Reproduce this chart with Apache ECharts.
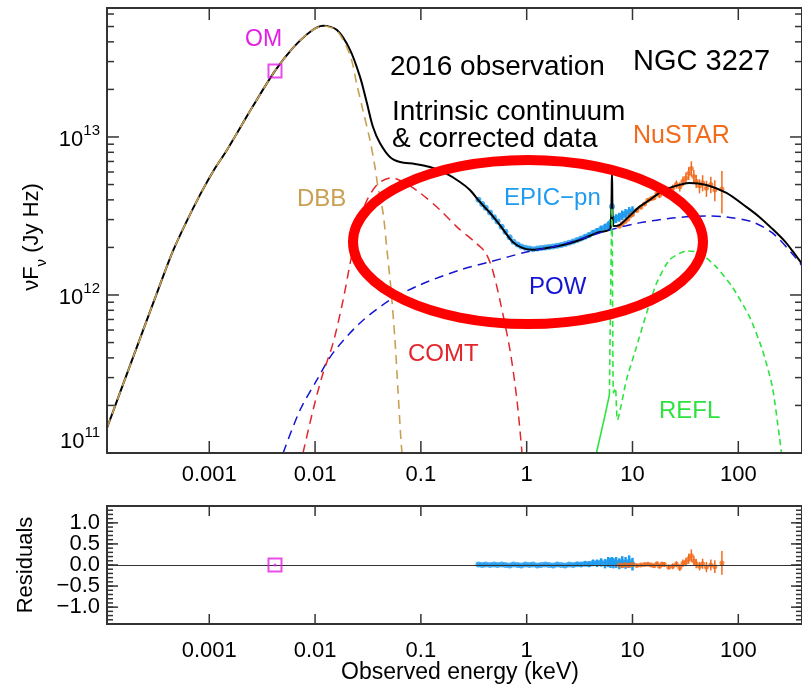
<!DOCTYPE html>
<html>
<head>
<meta charset="utf-8">
<script src="https://cdn.jsdelivr.net/npm/echarts@6/dist/echarts.min.js"></script>
<style>html,body{margin:0;padding:0;background:#fff}#c{width:802px;height:684px}</style>
</head>
<body>
<div id="c"></div>
<script>
// ---------------- axis ranges & tick values ----------------
const XMIN = 1.08e-4, XMAX = 400;
const YMIN = 1e11, YMAX = 6.55e13;
const RMIN = -1.4, RMAX = 1.4;
const xTickVals = [0.001, 0.01, 0.1, 1, 10, 100];
const yMajorVals = [1e11, 1e12, 1e13];
const resMajorVals = [-1, -0.5, 0, 0.5, 1];

// ---------------- model curves (keV, Jy Hz) ----------------
const modelE = [1.08e-4,1.43e-4,2.21e-4,3.42e-4,4.54e-4,6.00e-4,8.17e-4,1.10e-3,1.47e-3,2.59e-3,4.18e-3,6.18e-3,8.95e-3,1.19e-2,1.61e-2,2.14e-2,2.66e-2,3.09e-2,3.52e-2,4.10e-2,5.10e-2,6.34e-2,8.79e-2,0.122,0.169,0.234,0.291,0.361,0.450,0.558,0.741,0.921,1.14,1.55,2.20,3.18,4.60,6.20,6.40,6.60,7.53,9.36,11.6,14.5,18.0,23.9,34.5,50.0,77.3,119,158,210,273,325,400];
const modelF = [1.44e11,2.40e11,5.27e11,1.16e12,1.90e12,2.85e12,4.30e12,6.14e12,8.28e12,1.57e13,2.62e13,3.66e13,4.62e13,5.05e13,4.75e13,3.56e13,2.40e13,1.64e13,1.16e13,9.16e12,7.47e12,6.95e12,6.75e12,6.46e12,5.92e12,5.19e12,4.62e12,3.88e12,3.31e12,2.77e12,2.16e12,1.98e12,1.93e12,1.98e12,2.07e12,2.23e12,2.47e12,2.65e12,5.92e12,2.73e12,2.77e12,3.16e12,3.61e12,3.99e12,4.43e12,4.83e12,5.12e12,4.97e12,4.43e12,3.61e12,3.12e12,2.62e12,2.20e12,1.90e12,1.57e12];

const dbbE = [1.08e-4,1.43e-4,2.21e-4,3.42e-4,4.54e-4,6.00e-4,8.17e-4,1.10e-3,1.47e-3,2.59e-3,4.18e-3,6.18e-3,8.95e-3,1.19e-2,1.61e-2,2.14e-2,2.49e-2,2.83e-2,3.30e-2,3.68e-2,3.93e-2,4.39e-2,4.78e-2,5.22e-2,5.69e-2,6.07e-2,6.48e-2,6.63e-2];
const dbbF = [1.44e11,2.40e11,5.27e11,1.16e12,1.90e12,2.85e12,4.30e12,6.14e12,8.28e12,1.57e13,2.62e13,3.66e13,4.62e13,5.05e13,4.69e13,3.30e13,2.13e13,1.48e13,9.57e12,6.46e12,4.83e12,3.31e12,1.93e12,1.08e12,5.20e11,2.51e11,1.21e11,1.0e11];

const comtE = [7.69e-3,9.57e-3,1.16e-2,1.48e-2,1.84e-2,2.28e-2,2.96e-2,3.93e-2,5.33e-2,7.08e-2,9.82e-2,0.152,0.220,0.325,0.404,0.470,0.558,0.695,0.809,0.903];
const comtF = [1.0e11,1.87e11,3.03e11,4.97e11,9.29e11,1.93e12,3.72e12,5.05e12,5.51e12,5.12e12,4.43e12,3.45e12,2.69e12,2.16e12,1.87e12,1.48e12,9.29e11,4.49e11,2.16e11,1.0e11];

const powE = [4.99e-3,7.21e-3,1.04e-2,1.48e-2,2.66e-2,5.10e-2,9.82e-2,0.234,0.450,0.993,2.07,6.12,11.6,23.9,50.0,77.3,136,210,325,400];
const powF = [1.0e11,1.87e11,2.90e11,4.30e11,6.65e11,9.29e11,1.16e12,1.44e12,1.62e12,1.87e12,2.07e12,2.58e12,2.86e12,3.07e12,3.16e12,3.12e12,2.90e12,2.47e12,1.82e12,1.53e12];

const reflE = [4.56,5.43,6.05,6.40,6.60,6.90,7.21,8.77,10.9,13.6,16.9,22.4,32.4,43.0,62.2,88.1,128,169,210,245,256];
const reflF = [1.0e11,1.67e11,2.33e11,3.56e12,2.40e11,2.58e11,1.62e11,2.90e11,4.69e11,7.69e11,1.19e12,1.67e12,1.90e12,1.85e12,1.50e12,1.12e12,7.26e11,4.49e11,2.62e11,1.26e11,1.0e11];

// ---------------- data ----------------
const omE = [4.18e-3];
const omF = [2.62e13];
const omRes = [0];

const epicE = [0.35,0.38,0.41,0.45,0.49,0.53,0.58,0.63,0.69,0.75,0.82,0.89,0.97,1.06,1.15,1.26,1.37,1.50,1.63,1.78,1.94,2.12,2.31,2.52,2.75,3.00,3.27,3.57,3.89,4.24,4.63,5.05,5.50,5.90,6.20,6.40,6.60,7.00,7.50,8.00,8.60,9.30,10.0];
const epicF = [4.01e12,3.76e12,3.56e12,3.33e12,3.10e12,2.92e12,2.70e12,2.51e12,2.32e12,2.17e12,2.09e12,2.03e12,1.99e12,1.97e12,1.95e12,1.97e12,1.98e12,2.00e12,2.01e12,2.03e12,2.05e12,2.07e12,2.10e12,2.14e12,2.18e12,2.23e12,2.28e12,2.34e12,2.40e12,2.48e12,2.54e12,2.62e12,2.68e12,2.75e12,2.85e12,3.63e12,2.99e12,3.05e12,3.11e12,3.20e12,3.27e12,3.35e12,3.39e12];
const epicFerr = [4.8e10,4.5e10,4.3e10,4.0e10,3.7e10,3.5e10,3.2e10,3.0e10,2.8e10,2.6e10,2.5e10,2.4e10,2.4e10,2.4e10,2.3e10,2.4e10,2.4e10,2.4e10,2.4e10,2.4e10,2.5e10,2.5e10,2.5e10,2.6e10,3.3e10,4.5e10,5.7e10,7.0e10,8.4e10,9.9e10,1.14e11,1.31e11,1.47e11,1.65e11,1.71e11,1.80e11,1.79e11,1.98e11,2.02e11,2.24e11,2.29e11,2.51e11,2.54e11];
const epicRes = [0.01,0.00,0.01,0.00,0.01,0.00,0.01,0.00,-0.01,0.01,0.00,-0.01,0.01,0.00,0.01,-0.01,0.00,0.01,0.00,-0.01,0.01,0.00,-0.01,0.01,0.00,0.02,0.01,0.03,0.02,0.05,0.04,0.06,0.03,0.07,0.05,0.09,0.04,0.06,0.03,0.07,0.05,0.08,0.02];
const epicResErr = [0.025,0.025,0.025,0.025,0.025,0.025,0.025,0.025,0.025,0.025,0.025,0.025,0.025,0.025,0.025,0.025,0.025,0.025,0.025,0.025,0.025,0.025,0.025,0.025,0.03,0.04,0.05,0.06,0.07,0.08,0.09,0.10,0.11,0.12,0.12,0.10,0.12,0.13,0.13,0.14,0.14,0.15,0.15];

const nuE = [7.5,8,8.5,9,9.5,10,11,12,13,14,15,16,17,18,19,20,22,24,26,28,30,32,34,36,38,40,43,46,50,55,60,70];
const nuF = [2.72e12,2.82e12,2.92e12,3.02e12,3.16e12,3.24e12,3.43e12,3.59e12,3.76e12,3.98e12,4.07e12,4.12e12,4.37e12,4.27e12,4.52e12,4.62e12,4.62e12,4.73e12,5.01e12,4.84e12,5.25e12,5.50e12,5.89e12,6.31e12,5.62e12,5.25e12,4.90e12,5.13e12,4.73e12,5.01e12,4.62e12,4.68e12];
const nuFerr = [6e10,6e10,6e10,7e10,7e10,8e10,9e10,1.0e11,1.1e11,1.2e11,1.3e11,1.4e11,1.6e11,1.7e11,1.9e11,2.0e11,2.3e11,2.6e11,3.0e11,3.3e11,3.8e11,4.5e11,5.5e11,7.0e11,5.5e11,5.0e11,5.0e11,6.0e11,5.5e11,6.0e11,7.0e11,1.4e12];
const nuRes = [0.00,-0.02,0.01,-0.01,0.00,0.01,-0.01,0.00,0.01,0.02,0.00,-0.02,0.03,-0.03,0.02,0.01,-0.05,-0.03,0.02,-0.06,0.04,0.07,0.15,0.22,0.10,0.03,-0.03,0.03,-0.05,0.00,-0.04,0.05];
const nuResErr = [0.03,0.03,0.03,0.03,0.03,0.03,0.035,0.035,0.04,0.04,0.04,0.045,0.05,0.05,0.055,0.06,0.06,0.07,0.07,0.08,0.09,0.10,0.12,0.15,0.12,0.11,0.10,0.12,0.12,0.13,0.15,0.28];

// ---------------- styling ----------------
const FONT = '"Liberation Sans", Arial, Helvetica, sans-serif';
const AX = '#333';
const C_EPIC = '#1E9BEF', C_NU = '#F26A1B', C_DBB = '#C9A052', C_COMT = '#E3262B',
      C_POW = '#1414D2', C_REFL = '#2FE33F', C_OM = '#E31FE3';

const yMinorVals = [];
yMajorVals.forEach(d => { for (let m = 2; m <= 9; m++) { const v = m * d; if (v <= YMAX) yMinorVals.push(v); } });
const resMinorVals = [];
for (let i = -14; i <= 14; i++) resMinorVals.push(i / 10);
// residual labels split over two label axes so that no label is dropped for overlap
const resLabelsA = resMajorVals.filter(v => Number.isInteger(v));
const resLabelsB = resMajorVals.filter(v => !Number.isInteger(v));

function fmtE(v) { return v >= 1 ? String(Math.round(v)) : String(parseFloat(Number(v).toPrecision(1))); }
function fmtR(v) { const a = Math.abs(v).toFixed(1); return v < -1e-9 ? '\u2212' + a : a; }
function axLine() { return { show: true, onZero: false, lineStyle: { color: AX, width: 2 } }; }

function xAx(grid, pos, labels, margin) {
  return {
    type: 'log', logBase: 10, gridIndex: grid, position: pos, min: XMIN, max: XMAX, z: 10,
    axisLine: axLine(), splitLine: { show: false }, axisTick: { show: false },
    minorTick: { show: false }, minorSplitLine: { show: false },
    axisLabel: labels ? { show: true, hideOverlap: false, showMinLabel: true, showMaxLabel: true, customValues: xTickVals, formatter: fmtE, color: '#000', fontSize: 22, fontFamily: FONT, margin: margin } : { show: false }
  };
}
function yLog(pos, labels) {
  return {
    type: 'log', logBase: 10, gridIndex: 0, position: pos, min: YMIN, max: YMAX, z: 10,
    axisLine: axLine(), splitLine: { show: false }, axisTick: { show: false },
    minorTick: { show: false }, minorSplitLine: { show: false },
    axisLabel: labels ? {
      show: true, hideOverlap: false, showMinLabel: true, showMaxLabel: true, customValues: yMajorVals, margin: 7, verticalAlignMinLabel: 'bottom',
      formatter: v => '{b|10}{s|' + Math.round(Math.log10(v)) + '}',
      rich: {
        b: { fontSize: 22, fontFamily: FONT, color: '#000', lineHeight: 28, verticalAlign: 'bottom' },
        s: { fontSize: 15, fontFamily: FONT, color: '#000', lineHeight: 18, verticalAlign: 'top' }
      }
    } : { show: false }
  };
}
function yRes(pos, labelVals) {
  return {
    type: 'value', gridIndex: 1, position: pos, min: RMIN, max: RMAX, z: 10,
    axisLine: axLine(), splitLine: { show: false }, axisTick: { show: false },
    axisLabel: labelVals ? { show: true, hideOverlap: false, showMinLabel: true, showMaxLabel: true, customValues: labelVals, formatter: fmtR, color: '#000', fontSize: 22, lineHeight: 20, fontFamily: FONT, margin: 7 } : { show: false }
  };
}

// tick marks placed through the axes' own scales (api.coord), drawn inward on both sides of the frame
function xTicks(xi, yi, vals, len, yRef) {
  return {
    type: 'custom', xAxisIndex: xi, yAxisIndex: yi, z: 11, silent: true, clip: false,
    data: vals.map(v => [v, yRef]), encode: { x: 0, y: 1 },
    renderItem: (params, api) => {
      const cs = params.coordSys;
      const x = api.coord([api.value(0), api.value(1)])[0];
      const b = cs.y + cs.height;
      const st = { stroke: AX, lineWidth: 1.5 };
      return { type: 'group', children: [
        { type: 'line', shape: { x1: x, y1: b, x2: x, y2: b - len }, style: st },
        { type: 'line', shape: { x1: x, y1: cs.y, x2: x, y2: cs.y + len }, style: st }
      ] };
    }
  };
}
function yTicks(xi, yi, vals, len, xRef) {
  return {
    type: 'custom', xAxisIndex: xi, yAxisIndex: yi, z: 11, silent: true, clip: false,
    data: vals.map(v => [xRef, v]), encode: { x: 0, y: 1 },
    renderItem: (params, api) => {
      const cs = params.coordSys;
      const y = api.coord([api.value(0), api.value(1)])[1];
      const r = cs.x + cs.width;
      const st = { stroke: AX, lineWidth: 1.5 };
      return { type: 'group', children: [
        { type: 'line', shape: { x1: cs.x, y1: y, x2: cs.x + len, y2: y }, style: st },
        { type: 'line', shape: { x1: r, y1: y, x2: r - len, y2: y }, style: st }
      ] };
    }
  };
}

function errBars(xi, yi, E, lo, hi, color, width, z) {
  return {
    type: 'custom', xAxisIndex: xi, yAxisIndex: yi, z: z, silent: true,
    data: E.map((e, i) => [e, lo[i], hi[i]]),
    encode: { x: 0, y: [1, 2] },
    renderItem: (p, api) => {
      const a = api.coord([api.value(0), api.value(1)]);
      const b = api.coord([api.value(0), api.value(2)]);
      return { type: 'line', shape: { x1: a[0], y1: a[1], x2: b[0], y2: b[1] }, style: { stroke: color, lineWidth: width } };
    }
  };
}
function pts(xi, yi, E, F, color, size, z) {
  return { type: 'scatter', xAxisIndex: xi, yAxisIndex: yi, z: z, silent: true, symbol: 'circle', symbolSize: size,
    itemStyle: { color: color }, data: E.map((e, i) => [e, F[i]]) };
}
function curve(E, F, color, width, dash, z, sm) {
  return { type: 'line', xAxisIndex: 0, yAxisIndex: 0, z: z, silent: true, showSymbol: false, symbol: 'none',
    smooth: sm == null ? 0.3 : sm, clip: true,
    lineStyle: { color: color, width: width, type: dash || 'solid' },
    data: E.map((e, i) => [e, F[i]]) };
}

function txt(text, x, y, size, color, align, extra) {
  return Object.assign({
    type: 'text', x: x, y: y, z: 101, silent: true,
    style: { text: text, fill: color, fontSize: size, fontFamily: FONT,
      textAlign: align || 'left', textVerticalAlign: 'middle', align: align || 'left', verticalAlign: 'middle' }
  }, extra || {});
}

const chart = echarts.init(document.getElementById('c'), null, { renderer: 'canvas', width: 802, height: 684 });
chart.setOption({
  animation: false,
  backgroundColor: '#fff',
  textStyle: { fontFamily: FONT },
  grid: [
    { left: 107, top: 8, width: 695, height: 445, show: false, containLabel: false, outerBoundsMode: 'none' },
    { left: 107, top: 506, width: 695, height: 118, show: false, containLabel: false, outerBoundsMode: 'none' }
  ],
  xAxis: [
    xAx(0, 'bottom', true, 11),
    xAx(0, 'top', false),
    xAx(1, 'bottom', true, 16),
    xAx(1, 'top', false)
  ],
  yAxis: [
    yLog('left', true),
    yLog('right', false),
    yRes('left', resLabelsA),
    yRes('left', resLabelsB),
    yRes('right', null)
  ],
  series: [
    // frame ticks
    xTicks(0, 0, xTickVals, 12, YMIN),
    yTicks(0, 0, yMajorVals, 12, XMIN),
    yTicks(0, 0, yMinorVals, 7, XMIN),
    xTicks(2, 2, xTickVals, 10, 0),
    yTicks(2, 2, resMajorVals, 11, XMIN),
    yTicks(2, 2, resMinorVals, 6, XMIN),
    // main panel data
    errBars(0, 0, epicE, epicF.map((f, i) => f - epicFerr[i]), epicF.map((f, i) => f + epicFerr[i]), C_EPIC, 2.5, 2),
    pts(0, 0, epicE, epicF, C_EPIC, 6, 2),
    errBars(0, 0, nuE, nuF.map((f, i) => f - nuFerr[i]), nuF.map((f, i) => f + nuFerr[i]), C_NU, 1.5, 2),
    pts(0, 0, nuE, nuF, C_NU, 5, 2),
    // model curves
    curve(modelE, modelF, '#000', 2, 'solid', 3),
    curve(powE, powF, C_POW, 1.5, [9, 6], 4),
    curve(comtE, comtF, C_COMT, 1.5, [9, 6], 4),
    curve(dbbE, dbbF, C_DBB, 1.6, [9, 6], 4),
    curve(reflE.slice(0, 3), reflF.slice(0, 3), C_REFL, 1.6, 'solid', 4, 0),
    curve(reflE.slice(2), reflF.slice(2), C_REFL, 1.6, [6, 4], 4, 0.2),
    { type: 'scatter', xAxisIndex: 0, yAxisIndex: 0, z: 5, silent: true, symbol: 'rect', symbolSize: 13,
      itemStyle: { color: 'rgba(0,0,0,0)', borderColor: C_OM, borderWidth: 2 },
      data: omE.map((e, i) => [e, omF[i]]) },
    // residual panel
    { type: 'line', xAxisIndex: 2, yAxisIndex: 2, z: 1, silent: true, data: [],
      markLine: { silent: true, symbol: 'none', label: { show: false },
        lineStyle: { color: AX, width: 1.2, type: 'solid' }, data: [{ yAxis: 0 }] } },
    errBars(2, 2, epicE, epicRes.map((r, i) => r - epicResErr[i]), epicRes.map((r, i) => r + epicResErr[i]), C_EPIC, 2.5, 2),
    pts(2, 2, epicE, epicRes, C_EPIC, 6, 2),
    errBars(2, 2, nuE, nuRes.map((r, i) => r - nuResErr[i]), nuRes.map((r, i) => r + nuResErr[i]), C_NU, 1.5, 2),
    pts(2, 2, nuE, nuRes, C_NU, 5, 2),
    { type: 'scatter', xAxisIndex: 2, yAxisIndex: 2, z: 5, silent: true, symbol: 'rect', symbolSize: 13,
      itemStyle: { color: 'rgba(0,0,0,0)', borderColor: C_OM, borderWidth: 2 },
      data: omE.map((e, i) => [e, omRes[i]]) },
    pts(2, 2, omE, omRes, C_OM, 3, 5)
  ],
  graphic: [
    { type: 'ellipse', z: 100, silent: true, shape: { cx: 528, cy: 242, rx: 175, ry: 82 },
      style: { fill: 'none', stroke: '#FF0000', lineWidth: 10 } },
    txt('OM', 245, 40, 23, C_OM),
    txt('2016 observation', 390, 67, 28, '#000'),
    txt('NGC 3227', 633, 62, 29, '#000'),
    txt('Intrinsic continuum', 392, 112, 28, '#000'),
    txt('& corrected data', 392, 139, 28, '#000'),
    txt('NuSTAR', 633, 136, 25, C_NU),
    txt('DBB', 297, 199, 24, C_DBB),
    txt('EPIC\u2212pn', 504, 198, 24, C_EPIC),
    txt('POW', 529, 287, 24, C_POW),
    txt('COMT', 408, 354, 24, C_COMT),
    txt('REFL', 659, 411, 24, C_REFL),
    txt('Observed energy (keV)', 460, 673, 23, '#000', 'center'),
    txt('Residuals', 26, 565, 22, '#000', 'center', { rotation: Math.PI / 2 }),
    { type: 'text', x: 35, y: 237, rotation: Math.PI / 2, z: 101, silent: true,
      style: { text: '{a|\u03bdF}{s|\u03bd}{a| (Jy Hz)}', textAlign: 'center', textVerticalAlign: 'middle', align: 'center', verticalAlign: 'middle',
        rich: {
          a: { fontSize: 22, fontFamily: FONT, fill: '#000', color: '#000', lineHeight: 28, verticalAlign: 'top' },
          s: { fontSize: 15, fontFamily: FONT, fill: '#000', color: '#000', lineHeight: 16, verticalAlign: 'bottom' }
        } } }
  ]
});
</script>
</body>
</html>
